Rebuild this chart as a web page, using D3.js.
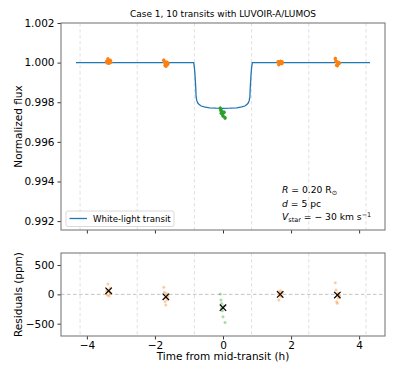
<!DOCTYPE html>
<html><head><meta charset="utf-8">
<script src="https://cdn.jsdelivr.net/npm/d3@7"></script>
<style>
body{margin:0;background:#fff;}
text{font-family:"DejaVu Sans",sans-serif;fill:#000;}
</style></head>
<body><svg id="c" width="399" height="377"></svg>
<script>
// ---- data ----
const modelTime = [-4.32,-0.86,-0.84,-0.82,-0.80,-0.79,-0.77,-0.74,-0.70,-0.64,-0.55,-0.40,-0.20,0,0.20,0.40,0.55,0.64,0.70,0.74,0.77,0.79,0.80,0.82,0.84,0.86,4.32];
const modelFlux = [1.0,1.0,0.99975,0.9993,0.9987,0.99828,0.99808,0.99796,0.99788,0.99781,0.99776,0.99772,0.99770,0.99769,0.99770,0.99772,0.99776,0.99781,0.99788,0.99796,0.99808,0.99828,0.9987,0.9993,0.99975,1.0,1.0];

const t1 = [-3.42,-3.40,-3.38,-3.36,-3.35,-3.33,-3.31,-3.30];
const t2 = [-1.74,-1.72,-1.70,-1.68,-1.67,-1.65,-1.63,-1.62];
const t3 = [-0.08,-0.06,-0.04,-0.02,0.0,0.06,0.03,-0.05];
const t4 = [1.62,1.64,1.66,1.68,1.69,1.71,1.73,1.74];
const t5 = [3.30,3.32,3.34,3.36,3.37,3.39,3.41,3.42];

const flux1 = [1.00006,0.99999,1.00018,1.00007,0.99997,1.00004,1.00011,1.00002];
const flux2 = [1.00012,1.00003,0.99987,0.99982,0.99994,1.00001,0.99991,0.99997];
const flux3 = [0.99770,0.99759,0.99754,0.99741,0.99731,0.99721,0.99749,0.99745];
const flux4 = [1.00004,0.99990,1.00002,0.99997,1.00006,1.00001,0.99996,1.00003];
const flux5 = [1.00020,1.00007,0.99987,0.99985,1.00002,0.99994,0.99997,0.99998];

const resid1 = [60,-12,176,73,-30,40,110,20];
const resid2 = [120,34,-126,-183,-60,10,-90,-30];
const resid3 = [5,-97,-154,-280,-382,-478,-200,-240];
const resid4 = [44,-97,20,-30,60,10,-40,30];
const resid5 = [198,73,-126,-150,20,-60,-30,-20];

const binTime = [-3.36,-1.68,0,1.68,3.36];
const binResid = [61,-41,-228,0,-12];
const clusterColor = ["#ff7f0e","#ff7f0e","#2ca02c","#ff7f0e","#ff7f0e"];
const gridTimes = [-4.2,-2.52,-0.84,0.84,2.52,4.2];

const xTicks = [-4,-2,0,2,4];
const fluxTicks = [0.992,0.994,0.996,0.998,1.000,1.002];
const residTicks = [-500,0,500];

// ---- layout ----
const svg = d3.select("#c");
const L = 61, R = 385;
const top1 = 23, bot1 = 230, top2 = 253, bot2 = 336;
const x = d3.scaleLinear().domain([-4.76,4.76]).range([L,R]);
const y1 = d3.scaleLinear().domain([0.99155,1.0020]).range([bot1,top1]);
const y2 = d3.scaleLinear().domain([-710,705]).range([bot2,top2]);
const minus = s => String(s).replace("-", "\u2212");

function panel(top, bot) {
  const g = svg.append("g");
  g.selectAll("line.grid").data(gridTimes).join("line")
    .attr("x1", d => x(d)).attr("x2", d => x(d)).attr("y1", top).attr("y2", bot)
    .attr("stroke", "#dcdcdc").attr("stroke-width", 0.9).attr("stroke-dasharray", "3.5,2.5");
  return g;
}
const g1 = panel(top1, bot1);
const g2 = panel(top2, bot2);

g2.append("line").attr("x1", L).attr("x2", R).attr("y1", y2(0)).attr("y2", y2(0))
  .attr("stroke", "#bbbbbb").attr("stroke-width", 0.9).attr("stroke-dasharray", "3.5,2.5");

g1.append("path").datum(d3.zip(modelTime, modelFlux))
  .attr("d", d3.line().x(d => x(d[0])).y(d => y1(d[1])))
  .attr("fill", "none").attr("stroke", "#1f77b4").attr("stroke-width", 1.3);

const times = [t1,t2,t3,t4,t5];
const fluxes = [flux1,flux2,flux3,flux4,flux5];
const resids = [resid1,resid2,resid3,resid4,resid5];

times.forEach((ts, i) => {
  const pts = d3.zip(ts, fluxes[i]);
  g1.selectAll(null).data(pts).join("line")
    .attr("x1", d => x(d[0])).attr("x2", d => x(d[0]))
    .attr("y1", d => y1(d[1]) - 1.8).attr("y2", d => y1(d[1]) + 1.8)
    .attr("stroke", clusterColor[i]).attr("stroke-width", 1);
  g1.selectAll(null).data(pts).join("circle")
    .attr("cx", d => x(d[0])).attr("cy", d => y1(d[1])).attr("r", 1.8)
    .attr("fill", clusterColor[i]);
  const rp = d3.zip(ts, resids[i]);
  g2.selectAll(null).data(rp).join("circle")
    .attr("cx", d => x(d[0])).attr("cy", d => y2(d[1])).attr("r", 1.5)
    .attr("fill", clusterColor[i]).attr("fill-opacity", 0.4);
});

const bins = d3.zip(binTime, binResid);
g2.selectAll(null).data(bins).join("path")
  .attr("d", d => { const cx = x(d[0]), cy = y2(d[1]), s = 3.2;
    return `M${cx-s},${cy-s}L${cx+s},${cy+s}M${cx-s},${cy+s}L${cx+s},${cy-s}`; })
  .attr("stroke", "#000").attr("stroke-width", 1.2).attr("fill", "none");

const fs = "10.5px";
function axes(top, bot, y, yt, yfmt, showX) {
  const ax = svg.append("g").attr("transform", `translate(0,${bot})`)
    .call(d3.axisBottom(x).tickValues(xTicks).tickSize(3.5).tickPadding(2.5)
      .tickFormat(showX ? (d => minus(d)) : ""));
  const ay = svg.append("g").attr("transform", `translate(${L},0)`)
    .call(d3.axisLeft(y).tickValues(yt).tickSize(3.5).tickPadding(3).tickFormat(yfmt));
  [ax, ay].forEach(a => {
    a.select(".domain").remove();
    a.selectAll(".tick line").attr("stroke", "#000").attr("stroke-width", 0.8);
    a.selectAll(".tick text").style("font-size", fs).style("font-family", "DejaVu Sans").attr("fill", "#000");
  });
  svg.append("rect").attr("x", L).attr("y", top).attr("width", R - L).attr("height", bot - top)
    .attr("fill", "none").attr("stroke", "#7a7a7a").attr("stroke-width", 1.1);
}
axes(top1, bot1, y1, fluxTicks, d3.format(".3f"), false);
axes(top2, bot2, y2, residTicks, d => minus(d), true);

svg.append("text").attr("x", (L + R) / 2).attr("y", 17).attr("text-anchor", "middle")
  .style("font-size", "9px").text("Case 1, 10 transits with LUVOIR-A/LUMOS");
svg.append("text").attr("transform", `translate(22,${(top1 + bot1) / 2}) rotate(-90)`)
  .attr("text-anchor", "middle").style("font-size", fs).text("Normalized flux");
svg.append("text").attr("transform", `translate(22,${(top2 + bot2) / 2}) rotate(-90)`)
  .attr("text-anchor", "middle").style("font-size", fs).text("Residuals (ppm)");
svg.append("text").attr("x", (L + R) / 2).attr("y", 360).attr("text-anchor", "middle")
  .style("font-size", fs).text("Time from mid-transit (h)");

const lg = svg.append("g");
lg.append("rect").attr("x", 66).attr("y", 211).attr("width", 108).attr("height", 15.5).attr("rx", 2)
  .attr("fill", "#fff").attr("fill-opacity", 0.8).attr("stroke", "#d0d0d0").attr("stroke-width", 0.8);
lg.append("line").attr("x1", 69.5).attr("x2", 87).attr("y1", 218.5).attr("y2", 218.5)
  .attr("stroke", "#1f77b4").attr("stroke-width", 1.3);
lg.append("text").attr("x", 93).attr("y", 222).style("font-size", "8.6px").text("White-light transit");

const an = svg.append("g").style("font-size", "9.2px");
const t1a = an.append("text").attr("x", 282).attr("y", 193);
t1a.append("tspan").style("font-style", "italic").text("R");
t1a.append("tspan").text(" = 0.20 R");
t1a.append("tspan").attr("dy", 2).style("font-size", "6.5px").text("\u2299");
const t2a = an.append("text").attr("x", 282).attr("y", 206.5);
t2a.append("tspan").style("font-style", "italic").text("d");
t2a.append("tspan").text(" = 5 pc");
const t3a = an.append("text").attr("x", 282).attr("y", 220);
t3a.append("tspan").style("font-style", "italic").text("V");
t3a.append("tspan").attr("dy", 2).style("font-size", "6.5px").text("star");
t3a.append("tspan").attr("dy", -2).text(" = \u2212 30 km s");
t3a.append("tspan").attr("dy", -3.5).style("font-size", "6.5px").text("\u22121");
</script></body></html>
